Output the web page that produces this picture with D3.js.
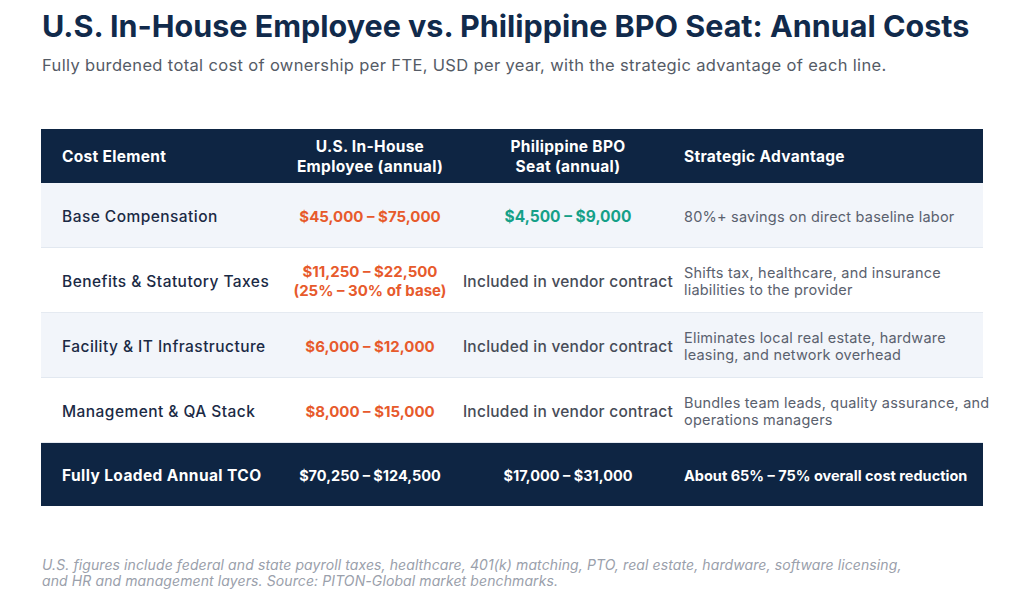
<!DOCTYPE html>
<html>
<head>
<meta charset="utf-8">
<script src="https://cdn.jsdelivr.net/npm/d3@7"></script>
<style>
  html, body { margin: 0; padding: 0; background: #fff; }
  svg { display: block; font-family: Inter, "Open Sans", sans-serif; }
</style>
</head>
<body>
<svg id="chart" width="1024" height="614"></svg>
<script>
// ---- data ----
const title = "U.S. In-House Employee vs. Philippine BPO Seat: Annual Costs";
const subtitle = "Fully burdened total cost of ownership per FTE, USD per year, with the strategic advantage of each line.";

const headers = [
  ["Cost Element"],
  ["U.S. In-House", "Employee (annual)"],
  ["Philippine BPO", "Seat (annual)"],
  ["Strategic Advantage"],
];

const costElements = [
  "Base Compensation",
  "Benefits & Statutory Taxes",
  "Facility & IT Infrastructure",
  "Management & QA Stack",
];

const usCosts = [
  ["$45,000 – $75,000"],
  ["$11,250 – $22,500", "(25% – 30% of base)"],
  ["$6,000 – $12,000"],
  ["$8,000 – $15,000"],
];

const bpoCosts = [
  ["$4,500 – $9,000"],
  ["Included in vendor contract"],
  ["Included in vendor contract"],
  ["Included in vendor contract"],
];

const advantages = [
  ["80%+ savings on direct baseline labor"],
  ["Shifts tax, healthcare, and insurance", "liabilities to the provider"],
  ["Eliminates local real estate, hardware", "leasing, and network overhead"],
  ["Bundles team leads, quality assurance, and", "operations managers"],
];

const totalRow = ["Fully Loaded Annual TCO", "$70,250 – $124,500", "$17,000 – $31,000", "About 65% – 75% overall cost reduction"];

const footnote = [
  "U.S. figures include federal and state payroll taxes, healthcare, 401(k) matching, PTO, real estate, hardware, software licensing,",
  "and HR and management layers. Source: PITON-Global market benchmarks.",
];

// ---- layout ----
const navy = "#0e2543";
const orange = "#e75a2c";
const green = "#15a088";
const tableLeft = 41, tableRight = 983;
const headerTop = 129, headerBottom = 183;
const bodyBottom = 443, totalBottom = 506;

const svg = d3.select("#chart");

const rowY = d3.scaleBand()
  .domain(costElements)
  .range([headerBottom, bodyBottom]);

// column anchors
const cols = [
  { x: 62, anchor: "start" },
  { x: 370, anchor: "middle" },
  { x: 568, anchor: "middle" },
  { x: 684, anchor: "start" },
];

function multiline(g, lines, x, cy, anchor, lineH) {
  const t = g.append("text")
    .attr("text-anchor", anchor)
    .attr("dominant-baseline", "central");
  const off = (lines.length - 1) * lineH / 2;
  lines.forEach((l, i) => {
    t.append("tspan").attr("x", x).attr("y", cy - off + i * lineH).text(l);
  });
  return t;
}

// title
svg.append("text")
  .attr("x", 42).attr("y", 37)
  .attr("font-size", 30.5).attr("font-weight", 700)
  .attr("fill", "#112a4b")
  .text(title);

svg.append("text")
  .attr("x", 42).attr("y", 71)
  .attr("font-size", 16.5).attr("letter-spacing", 0.35)
  .attr("fill", "#555b66")
  .text(subtitle);

// header
svg.append("rect")
  .attr("x", tableLeft).attr("y", headerTop)
  .attr("width", tableRight - tableLeft).attr("height", headerBottom - headerTop)
  .attr("fill", navy);

const hg = svg.append("g").attr("fill", "#fff").attr("font-size", 15.5).attr("font-weight", 700).attr("letter-spacing", 0.3);
headers.forEach((h, i) => {
  multiline(hg, h, cols[i].x, (headerTop + headerBottom) / 2, cols[i].anchor, 20);
});

// body rows
const rows = svg.append("g").selectAll("g")
  .data(costElements)
  .join("g")
  .attr("transform", d => `translate(0,${rowY(d)})`);

rows.append("rect")
  .attr("x", tableLeft)
  .attr("width", tableRight - tableLeft)
  .attr("height", rowY.bandwidth())
  .attr("fill", (d, i) => i % 2 === 0 ? "#f2f5fa" : "#ffffff");

rows.append("line")
  .attr("x1", tableLeft).attr("x2", tableRight)
  .attr("y1", rowY.bandwidth()).attr("y2", rowY.bandwidth())
  .attr("stroke", "#dde3ec").attr("stroke-width", 1.5);

const mid = rowY.bandwidth() / 2;

rows.each(function(d, i) {
  const g = d3.select(this);
  multiline(g, [d], cols[0].x, mid, "start", 18)
    .attr("font-size", 15.5).attr("letter-spacing", 0.45)
    .attr("font-weight", 500).attr("fill", "#1b2a45");

  multiline(g, usCosts[i], cols[1].x, mid, "middle", 19)
    .attr("font-size", 15).attr("font-weight", 700).attr("fill", orange);

  const bpoIncluded = bpoCosts[i][0].startsWith("Included");
  multiline(g, bpoCosts[i], cols[2].x, mid, "middle", 18)
    .attr("font-size", 15.5)
    .attr("letter-spacing", bpoIncluded ? 0.25 : 0)
    .attr("font-weight", bpoIncluded ? 500 : 700)
    .attr("fill", bpoIncluded ? "#474c57" : green);

  multiline(g, advantages[i], cols[3].x, mid, "start", 17)
    .attr("font-size", 14.5).attr("letter-spacing", 0.2)
    .attr("font-weight", 400).attr("fill", "#5a616e");
});

// total row
svg.append("rect")
  .attr("x", tableLeft).attr("y", bodyBottom)
  .attr("width", tableRight - tableLeft).attr("height", totalBottom - bodyBottom)
  .attr("fill", navy);

const tg = svg.append("g").attr("fill", "#fff").attr("font-weight", 700);
totalRow.forEach((t, i) => {
  multiline(tg, [t], cols[i].x, (bodyBottom + totalBottom) / 2, cols[i].anchor, 18)
    .attr("font-size", i === 0 ? 15.5 : 14.5)
    .attr("letter-spacing", i === 0 ? 0.4 : 0);
});

// footnote
const fn = svg.append("text")
  .attr("font-size", 14).attr("font-style", "italic")
  .attr("letter-spacing", 0.1)
  .attr("fill", "#9aa0ab");
footnote.forEach((l, i) => {
  fn.append("tspan").attr("x", 42).attr("y", 570 + i * 16).text(l);
});
</script>
</body>
</html>
